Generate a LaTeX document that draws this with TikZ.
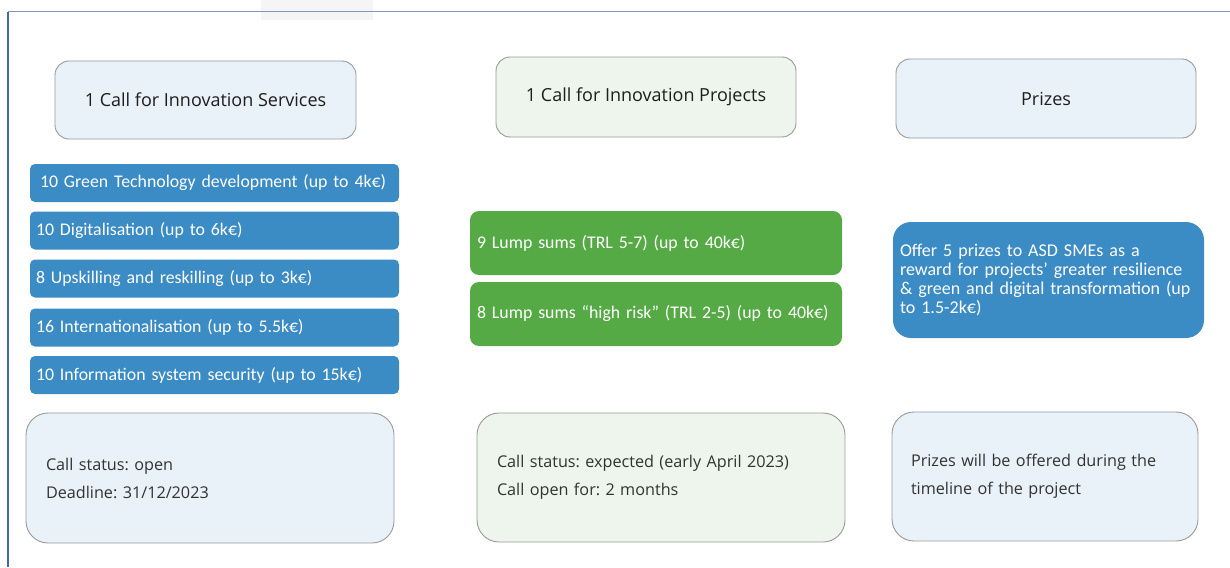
\documentclass[tikz,border=0pt]{standalone}
\usepackage{fontspec}
\newfontfamily\carl{Carlito}
\newfontfamily\osans{Open Sans}
\frenchspacing
\definecolor{frameblue}{HTML}{4565B0}
\definecolor{frametop}{HTML}{8595C5}
\definecolor{boxblue}{HTML}{3B8BC5}
\definecolor{boxgreen}{HTML}{56AA45}
\definecolor{paleblue}{HTML}{E9F1F9}
\definecolor{palegreen}{HTML}{EDF5EC}
\definecolor{edgegray}{HTML}{9A9A9A}
\definecolor{darktext}{HTML}{1E1E1E}
\definecolor{softtext}{HTML}{333333}
\tikzset{
  hdr/.style={draw=edgegray, line width=0.9pt, rounded corners=14pt, align=center,
    text=darktext, font=\osans\fontsize{18}{21}\selectfont},
  bluebar/.style={fill=boxblue, draw=none, rounded corners=5pt, text=white,
    minimum width=369pt, minimum height=38pt, text width=357pt, inner xsep=6pt, align=left,
    font=\carl\fontsize{17.8}{20}\selectfont},
  greenbar/.style={fill=boxgreen, draw=none, rounded corners=9pt, text=white,
    minimum width=372pt, minimum height=64pt, text width=358pt, inner xsep=7pt, align=left,
    font=\carl\fontsize{17.8}{20}\selectfont},
  statusbox/.style={draw=edgegray, line width=0.9pt, rounded corners=22pt, text=softtext,
    align=left, font=\osans\fontsize{16.2}{28}\selectfont, inner xsep=20pt}
}
\begin{document}
\begin{tikzpicture}[x=1pt,y=-1pt]
\useasboundingbox (0,0) rectangle (1230,567);
\fill[white] (0,0) rectangle (1230,567);
% faint artefact at top
\fill[black!4] (261,0) rectangle (373,20);
% frame lines
\draw[frametop, line width=1pt] (8,12) -- (1230,12);
\draw[frameblue, line width=1.6pt] (8,12) -- (8,567);

% headers
\node[hdr, fill=paleblue, minimum width=301pt, minimum height=78pt] (h1) at (205.5,100) {1 Call for Innovation Services};
\node[hdr, fill=palegreen, minimum width=300pt, minimum height=80pt] (h2) at (646,97) {1 Call for Innovation Projects};
\node[hdr, fill=paleblue, minimum width=300pt, minimum height=79pt] (h3) at (1046,98.5) {Prizes};

% blue service bars
\node[bluebar, inner xsep=10pt, text width=349pt] (s1) at (214.5,183) {10 Green Technology development (up to 4k€)};
\node[bluebar] (s2) at (214.5,230.5) {10 Digitalisation (up to 6k€)};
\node[bluebar] (s3) at (214.5,278.5) {8 Upskilling and reskilling (up to 3k€)};
\node[bluebar] (s4) at (214.5,327.5) {16 Internationalisation (up to 5.5k€)};
\node[bluebar] (s5) at (214.5,375) {10 Information system security (up to 15k€)};

% green project bars
\node[greenbar] (p1) at (656,243) {9 Lump sums (TRL 5-7) (up to 40k€)};
\node[greenbar] (p2) at (656,314) {8 Lump sums “high risk” (TRL 2-5) (up to 40k€)};

% prize box
\node[fill=boxblue, rounded corners=18pt, text=white, minimum width=311pt, minimum height=116pt,
  text width=297pt, inner xsep=7pt, align=left, font=\carl\fontsize{18}{19}\selectfont]
  (pr) at (1048.5,280) {Offer 5 prizes to ASD SMEs as a\\reward for projects’ greater resilience\\\& green and digital transformation (up\\to 1.5-2k€)};

% status boxes
\node[statusbox, fill=paleblue, minimum width=368pt, minimum height=130pt, text width=328pt] (b1) at (210,478)
  {Call status: open\\Deadline: 31/12/2023};
\node[statusbox, fill=palegreen, minimum width=368pt, minimum height=129pt, text width=328pt] (b2) at (661,477.5)
  {Call status: expected (early April 2023)\\Call open for: 2 months};
\node[statusbox, fill=paleblue, minimum width=306pt, minimum height=129pt, text width=268pt, inner xsep=19pt] (b3) at (1045,476.5)
  {Prizes will be offered during the\\timeline of the project};
\end{tikzpicture}
\end{document}
